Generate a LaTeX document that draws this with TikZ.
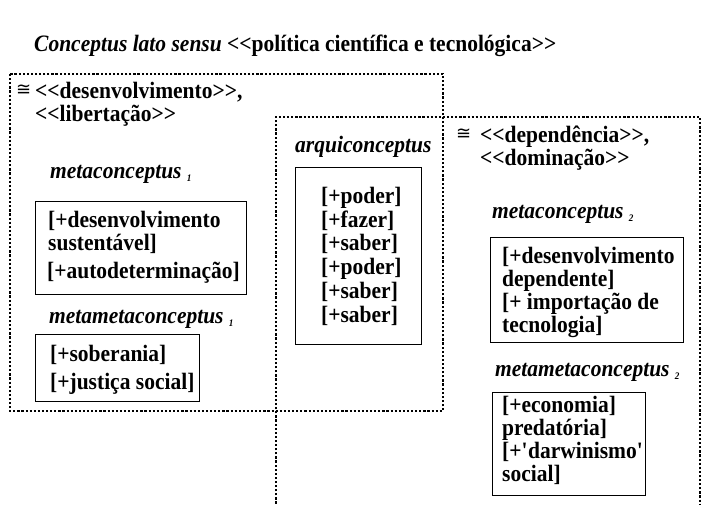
\documentclass[tikz,border=0pt]{standalone}
\usepackage{fontspec}
\newfontfamily\tnr{Liberation Serif}[FakeStretch=0.915]
\newfontfamily\symf{DejaVu Sans}
\newcommand{\subidx}[1]{\raisebox{-3pt}{\fontsize{10}{10}\selectfont #1}}
\newcommand{\congsym}[1]{\makebox[#1][l]{\raisebox{3pt}{\symf\mdseries\fontsize{18}{20}\selectfont ≅}}}
\tikzset{
  txt/.style={font=\tnr\bfseries\fontsize{23.5}{26}\selectfont, inner sep=0pt, anchor=base west},
  lab/.style={font=\tnr\bfseries\itshape\fontsize{23.5}{26}\selectfont, inner sep=0pt, anchor=base west},
  box/.style={draw, line width=0.8pt, anchor=north west, inner sep=0pt},
  frame/.style={line width=2.6pt, dash pattern=on 2.2pt off 1.9pt},
}
\begin{document}
\begin{tikzpicture}[x=1pt,y=-1pt]
\clip (0,0) rectangle (704,504);
% dotted frames
\draw[frame] (10,74) rectangle (443,411);
\draw[frame] (276,520) -- (276,117) -- (700,117) -- (700,520);
% title
\node[txt] (title) at (34,51) {\textit{Conceptus lato sensu} <<política científica e tecnológica>>};
% left header
\node[txt] (h1a) at (16,98) {\congsym{19pt}<<desenvolvimento>>,};
\node[txt] (h1b) at (35,121) {<<libertação>>};
% metaconceptus 1
\node[lab] (mc1) at (50,178) {metaconceptus \subidx{1}};
\node[box, minimum width=211pt, minimum height=93pt] (b1) at (35,201) {};
\node[txt] (b1a) at (48,227) {[+desenvolvimento};
\node[txt] (b1b) at (48,250) {sustentável]};
\node[txt] (b1c) at (47,278) {[+autodeterminação]};
% metametaconceptus 1
\node[lab] (mmc1) at (49,323) {metametaconceptus \subidx{1}};
\node[box, minimum width=164pt, minimum height=67pt] (b2) at (35,334) {};
\node[txt] (b2a) at (50,361) {[+soberania]};
\node[txt] (b2b) at (50,389) {[+justiça social]};
% arquiconceptus
\node[lab] (arq) at (295,152) {arquiconceptus};
\node[box, minimum width=126pt, minimum height=177pt] (b3) at (295,167) {};
\node[txt] (a1) at (321,203) {[+poder]};
\node[txt] (a2) at (321,227) {[+fazer]};
\node[txt] (a3) at (321,250) {[+saber]};
\node[txt] (a4) at (321,274) {[+poder]};
\node[txt] (a5) at (321,298) {[+saber]};
\node[txt] (a6) at (321,322) {[+saber]};
% right header
\node[txt] (h2a) at (456,142) {\congsym{24pt}<<dependência>>,};
\node[txt] (h2b) at (480,165) {<<dominação>>};
% metaconceptus 2
\node[lab] (mc2) at (492,218) {metaconceptus \subidx{2}};
\node[box, minimum width=193pt, minimum height=105pt] (b4) at (490,237) {};
\node[txt] (b4a) at (502,263) {[+desenvolvimento};
\node[txt] (b4b) at (502,286) {dependente]};
\node[txt] (b4c) at (502,309) {[+ importação de};
\node[txt] (b4d) at (502,332) {tecnologia]};
% metametaconceptus 2
\node[lab] (mmc2) at (495,376) {metametaconceptus \subidx{2}};
\node[box, minimum width=153pt, minimum height=103pt] (b5) at (492,392) {};
\node[txt] (b5a) at (502,412) {[+economia]};
\node[txt] (b5b) at (502,435) {predatória]};
\node[txt] (b5c) at (502,458) {[+\textquotesingle darwinismo\textquotesingle};
\node[txt] (b5d) at (502,481) {social]};
\end{tikzpicture}
\end{document}
